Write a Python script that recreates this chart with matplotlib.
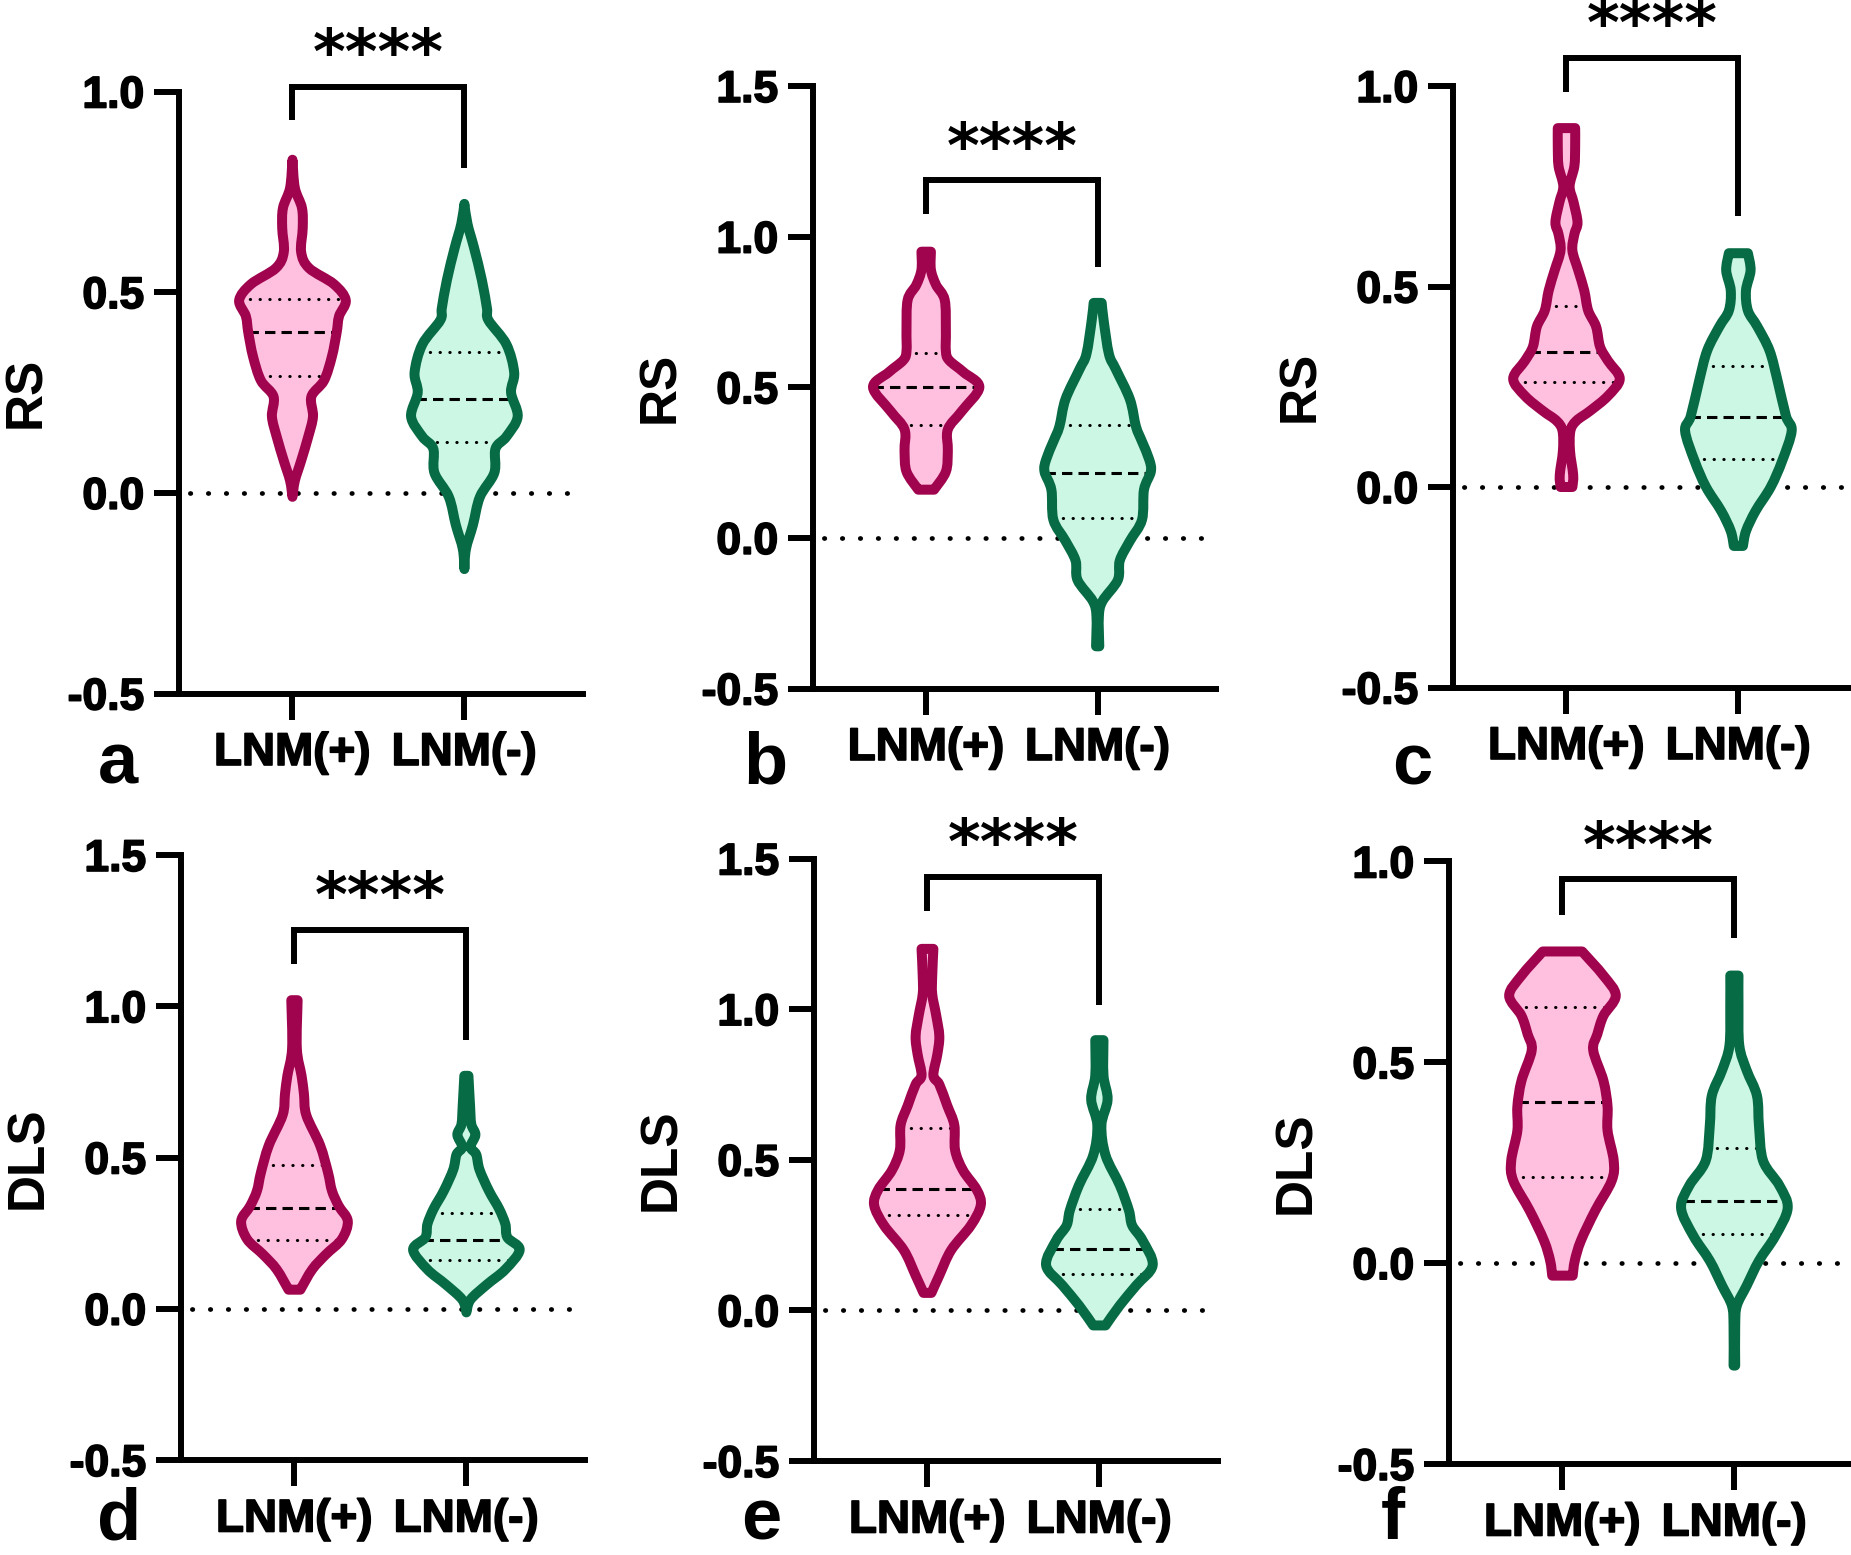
import numpy as np
import matplotlib
matplotlib.use("Agg")
import matplotlib.pyplot as plt
import matplotlib.patheffects as pe
from matplotlib.path import Path
from matplotlib.patches import PathPatch

plt.rcParams["font.family"] = ["Liberation Sans", "DejaVu Sans"]
plt.rcParams["font.weight"] = "bold"
plt.rcParams["axes.unicode_minus"] = False

GROUPS = ["LNM(+)", "LNM(-)"]

# violin outlines: value, relative density
# quartiles: (q1, median, q3)
a_pos_y = [-0.01, 0.03, 0.08, 0.14, 0.19, 0.24, 0.28, 0.34, 0.40, 0.44, 0.48, 0.52, 0.56, 0.60, 0.66, 0.71, 0.76, 0.83]
a_pos_d = [0, 6, 22, 40, 52, 48, 80, 100, 112, 118, 135, 105, 42, 22, 26, 24, 6, 0]
a_pos_q = [0.29, 0.40, 0.484]
a_neg_y = [-0.19, -0.14, -0.08, -0.01, 0.05, 0.11, 0.14, 0.19, 0.25, 0.30, 0.37, 0.43, 0.46, 0.53, 0.61, 0.67, 0.72]
a_neg_d = [0, 4, 22, 40, 77, 80, 108, 137, 120, 128, 108, 62, 58, 45, 25, 8, 0]
a_neg_q = [0.127, 0.234, 0.35]

b_pos_y = [0.16, 0.22, 0.29, 0.36, 0.42, 0.50, 0.55, 0.59, 0.62, 0.69, 0.79, 0.84, 0.89, 0.95]
b_pos_d = [20, 50, 55, 55, 90, 135, 95, 58, 50, 50, 47, 25, 12, 12]
b_pos_q = [0.374, 0.50, 0.613]
b_neg_y = [-0.36, -0.26, -0.21, -0.14, -0.075, -0.01, 0.06, 0.16, 0.22, 0.26, 0.32, 0.37, 0.46, 0.56, 0.61, 0.72, 0.78]
b_neg_d = [4, 3, 12, 50, 55, 80, 110, 115, 132, 128, 110, 95, 80, 45, 28, 15, 10]
b_neg_q = [0.066, 0.216, 0.374]

c_pos_y = [0.0, 0.03, 0.09, 0.14, 0.165, 0.19, 0.227, 0.27, 0.315, 0.35, 0.40, 0.44, 0.49, 0.54, 0.59, 0.63, 0.66, 0.71, 0.75, 0.80, 0.85, 0.895]
c_pos_d = [15, 17, 9, 10, 25, 60, 105, 135, 105, 85, 75, 55, 45, 30, 15, 20, 28, 18, 8, 20, 22, 22]
c_pos_q = [0.262, 0.336, 0.452]
c_neg_y = [-0.147, -0.11, -0.06, 0.0, 0.065, 0.14, 0.177, 0.265, 0.34, 0.40, 0.44, 0.49, 0.54, 0.583]
c_neg_d = [12, 20, 45, 85, 115, 140, 125, 103, 82, 50, 25, 20, 32, 25]
c_neg_q = [0.069, 0.175, 0.301]

d_pos_y = [0.063, 0.13, 0.18, 0.23, 0.29, 0.34, 0.39, 0.45, 0.54, 0.64, 0.71, 0.77, 0.86, 1.02]
d_pos_d = [15, 45, 80, 120, 135, 112, 95, 85, 65, 30, 24, 18, 6, 8]
d_pos_q = [0.228, 0.332, 0.474]
d_neg_y = [-0.012, 0.03, 0.08, 0.13, 0.195, 0.236, 0.28, 0.33, 0.39, 0.46, 0.51, 0.535, 0.575, 0.61, 0.67, 0.77]
d_neg_d = [0, 10, 50, 95, 130, 100, 95, 80, 55, 32, 24, 10, 22, 12, 9, 5]
d_neg_q = [0.162, 0.228, 0.317]

e_pos_y = [0.058, 0.116, 0.2, 0.282, 0.349, 0.40, 0.465, 0.532, 0.615, 0.68, 0.75, 0.78, 0.85, 0.91, 0.98, 1.05, 1.11, 1.20]
e_pos_d = [10, 30, 60, 110, 135, 125, 90, 70, 68, 50, 30, 15, 25, 30, 22, 12, 12, 15]
e_pos_q = [0.316, 0.402, 0.606]
e_neg_y = [-0.05, 0.017, 0.083, 0.15, 0.233, 0.282, 0.332, 0.415, 0.515, 0.615, 0.70, 0.78, 0.897]
e_neg_d = [15, 50, 90, 130, 105, 80, 72, 50, 15, 5, 20, 10, 10]
e_neg_q = [0.12, 0.204, 0.336]

f_pos_y = [-0.031, 0.006, 0.056, 0.131, 0.205, 0.255, 0.33, 0.39, 0.454, 0.53, 0.57, 0.616, 0.666, 0.716, 0.776]
f_pos_d = [25, 30, 45, 80, 120, 125, 110, 110, 100, 75, 85, 100, 130, 100, 48]
f_pos_q = [0.215, 0.40, 0.638]
f_neg_y = [-0.255, -0.156, -0.106, -0.056, 0.006, 0.068, 0.137, 0.193, 0.255, 0.342, 0.417, 0.48, 0.542, 0.641, 0.716]
f_neg_d = [2, 2, 6, 30, 60, 100, 130, 110, 70, 60, 55, 30, 12, 10, 10]
f_neg_q = [0.072, 0.156, 0.286]

SIG = "****"

PANELS = [
    ("a", "RS", 1.0, (a_pos_y, a_pos_d, a_pos_q), (a_neg_y, a_neg_d, a_neg_q)),
    ("b", "RS", 1.5, (b_pos_y, b_pos_d, b_pos_q), (b_neg_y, b_neg_d, b_neg_q)),
    ("c", "RS", 1.0, (c_pos_y, c_pos_d, c_pos_q), (c_neg_y, c_neg_d, c_neg_q)),
    ("d", "DLS", 1.5, (d_pos_y, d_pos_d, d_pos_q), (d_neg_y, d_neg_d, d_neg_q)),
    ("e", "DLS", 1.5, (e_pos_y, e_pos_d, e_pos_q), (e_neg_y, e_neg_d, e_neg_q)),
    ("f", "DLS", 1.0, (f_pos_y, f_pos_d, f_pos_q), (f_neg_y, f_neg_d, f_neg_q)),
]

# layout in pixels: axes box (left, top, right, bottom), letter (x, baseline)
W, H = 1851, 1555
AX_BOX = {
    "a": (179, 91.5, 583, 693.5), "b": (813, 86, 1216, 688.5), "c": (1453, 86, 1857, 687.5),
    "d": (181, 855, 585, 1460), "e": (814, 858.5, 1218, 1461), "f": (1449, 861.5, 1853, 1464),
}
LETTER_POS = {
    "a": (118, 783), "b": (765, 783), "c": (1412, 785),
    "d": (119, 1539), "e": (761, 1539), "f": (1393, 1539),
}
# bracket: (bar, left leg end, right leg end, stars centre) in data units
BRACKET = {
    "a": (1.011, 0.929, 0.81, 1.088), "b": (1.188, 1.075, 0.90, 1.289),
    "c": (1.069, 0.984, 0.676, 1.147), "d": (1.252, 1.14, 0.888, 1.353),
    "e": (1.44, 1.326, 1.013, 1.541), "f": (0.956, 0.867, 0.81, 1.03),
}

PINK_FACE, PINK_EDGE = "#FFBFDF", "#A1044E"
GREEN_FACE, GREEN_EDGE = "#CCF7E5", "#076B45"
HALF = 0.31
LW = 4.3


def add_curve(verts, codes, pts):
    n = len(pts)
    for i in range(n - 1):
        p0 = pts[max(i - 1, 0)]
        p1 = pts[i]
        p2 = pts[i + 1]
        p3 = pts[min(i + 2, n - 1)]
        verts += [p1 + (p2 - p0) / 6.0, p2 - (p3 - p1) / 6.0, p2]
        codes += [Path.CURVE4] * 3


def violin(ax, x, ys, dens, quarts, face, edge):
    ys = np.asarray(ys, float)
    hw = np.asarray(dens, float)
    hw = hw / hw.max() * HALF
    right = np.column_stack([x + hw, ys])
    left = np.column_stack([x - hw, ys])[::-1]
    verts = [right[0]]
    codes = [Path.MOVETO]
    add_curve(verts, codes, right)
    verts.append(left[0])
    codes.append(Path.LINETO)
    add_curve(verts, codes, left)
    verts.append(right[0])
    codes.append(Path.CLOSEPOLY)
    path = Path(verts, codes)
    ax.add_patch(PathPatch(path, fc=face, ec="none", zorder=2))
    ax.add_patch(PathPatch(path, fc="none", ec=edge, lw=7.2,
                           joinstyle="round", capstyle="round", zorder=4))
    for k, q in enumerate(quarts):
        w = np.interp(q, ys, hw)
        if k == 1:
            ax.plot([x - w, x + w], [q, q], color="black", lw=2.2,
                    ls=(0, (3.4, 2.0)), zorder=3)
        else:
            ax.plot([x - w, x + w], [q, q], color="black", lw=2.2,
                    ls=(0, (0.1, 3.1)), dash_capstyle="round", zorder=3)


fig = plt.figure(figsize=(W / 100, H / 100), dpi=100)
heavy = [pe.withStroke(linewidth=1.2, foreground="black")]

for letter, ylab, ymax, pos, neg in PANELS:
    l, t, r, b = AX_BOX[letter]
    ax = fig.add_axes([l / W, 1 - b / H, (r - l) / W, (b - t) / H])
    ax.set_xlim(0.34, 2.69)
    ax.set_ylim(-0.5, ymax)
    ax.axhline(0, color="black", lw=3.4, ls=(1.5, (0.1, 3.7)),
               dash_capstyle="round", zorder=1)

    violin(ax, 1, *pos, PINK_FACE, PINK_EDGE)
    violin(ax, 2, *neg, GREEN_FACE, GREEN_EDGE)

    bar, leg1, leg2, star_y = BRACKET[letter]
    ax.plot([1, 1, 2, 2], [leg1, bar, bar, leg2], color="black", lw=LW,
            solid_joinstyle="miter", solid_capstyle="butt", clip_on=False)
    ax.text(1.5, star_y, SIG, ha="center", va="center", fontsize=45,
            fontweight="bold", family="DejaVu Sans", clip_on=False)

    for side in ("top", "right"):
        ax.spines[side].set_visible(False)
    for side in ("left", "bottom"):
        ax.spines[side].set_linewidth(LW)
        ax.spines[side].set_capstyle("projecting")

    yt = np.arange(-0.5, ymax + 0.01, 0.5)
    ax.set_yticks(yt, [f"{v:.1f}" for v in yt])
    ax.set_xticks([1, 2], GROUPS)
    ax.tick_params(axis="y", length=18, width=LW, labelsize=32, pad=7)
    ax.tick_params(axis="x", length=19, width=LW, pad=8)
    for lab in ax.get_yticklabels():
        lab.set_path_effects(heavy)
    for lab in ax.get_xticklabels():
        lab.set_fontsize(33)
        lab.set_fontweight("bold")
        lab.set_path_effects(heavy)

    ax.set_ylabel(ylab, fontsize=37, fontweight="bold")
    ax.yaxis.set_label_coords(-128 / 404, 0.5)

    lx, ly = LETTER_POS[letter]
    fig.text(lx / W, 1 - ly / H, letter, ha="center", va="baseline",
             fontsize=52, fontweight="bold")

fig.savefig("out.png", dpi=100)
